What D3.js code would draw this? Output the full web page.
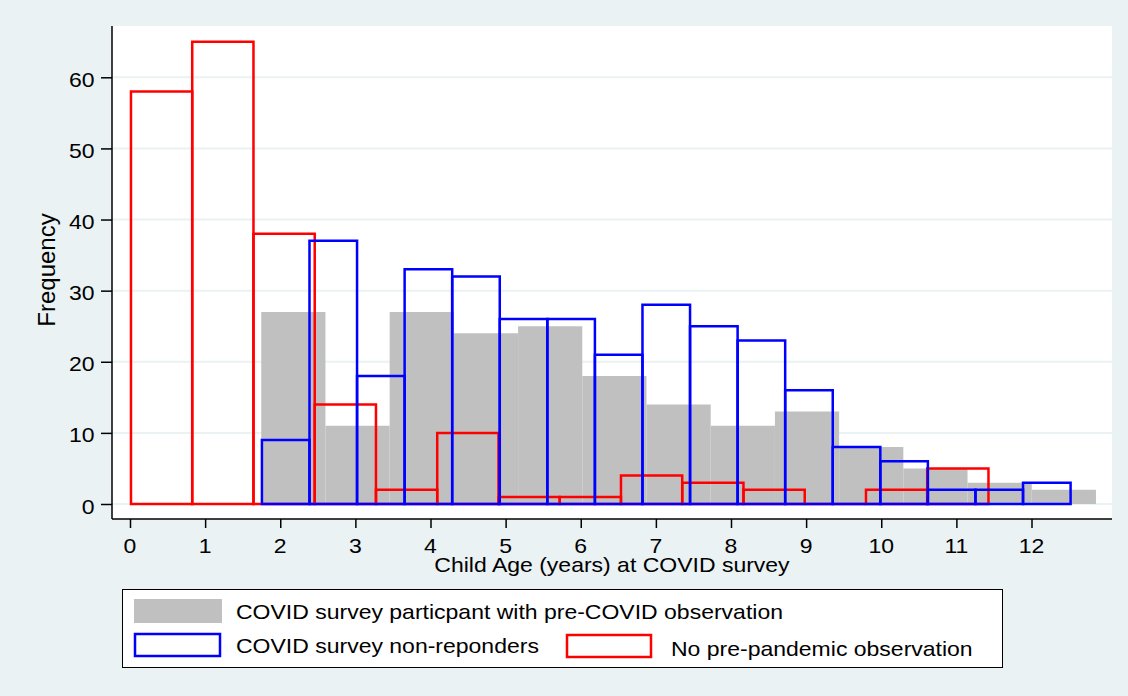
<!DOCTYPE html>
<html>
<head>
<meta charset="utf-8">
<script src="https://cdn.jsdelivr.net/npm/d3@7"></script>
<style>
  html, body { margin: 0; padding: 0; background: #eaf2f3; }
  svg { display: block; }
  text { font-family: "Liberation Sans", Arial, Helvetica, sans-serif; fill: #000; }
</style>
</head>
<body>
<div id="chart"></div>
<script>
// histogram counts, one array per group
const grayStart = 1.747
const grayWidth = 0.8547
const grayCounts = [27, 11, 27, 24, 25, 18, 14, 11, 13, 8, 5, 3, 2]

const blueStart = 1.756
const blueWidth = 0.6332
const blueCounts = [9, 37, 18, 33, 32, 26, 26, 21, 28, 25, 23, 16, 8, 6, 2, 2, 3]

const redStart = 0.013
const redWidth = 0.8153
const redCounts = [58, 65, 38, 14, 2, 10, 1, 1, 4, 3, 2, 0, 2, 5]

const xTicks = [0, 1, 2, 3, 4, 5, 6, 7, 8, 9, 10, 11, 12]
const yTicks = [0, 10, 20, 30, 40, 50, 60]

const legendLabels = [
  'COVID survey particpant with pre-COVID observation',
  'COVID survey non-reponders',
  'No pre-pandemic observation'
]

const width = 1128
const height = 696
const plot = { left: 112, right: 1112, top: 26, bottom: 519 }
const stretch = 1.15 // the source text is a little wide

const svg = d3.select('#chart').append('svg')
  .attr('width', width)
  .attr('height', height)

svg.append('rect')
  .attr('width', width).attr('height', height)
  .attr('fill', '#eaf2f3')

svg.append('rect')
  .attr('x', plot.left).attr('y', plot.top)
  .attr('width', plot.right - plot.left).attr('height', plot.bottom - plot.top)
  .attr('fill', '#fff')

const x = d3.scaleLinear().domain([0, 12]).range([130, 1031.5])
const y = d3.scaleLinear().domain([0, 60]).range([504, 77.3])

// grid
svg.append('g').selectAll('line')
  .data(yTicks)
  .enter()
  .append('line')
  .attr('x1', plot.left).attr('x2', plot.right)
  .attr('y1', d => y(d)).attr('y2', d => y(d))
  .attr('stroke', '#eaf2f3')
  .attr('stroke-width', 2)

function bins (start, w, counts) {
  return counts.map((c, i) => ({ x0: start + i * w, x1: start + (i + 1) * w, n: c }))
}

function barPath (d) {
  const x0 = x(d.x0)
  const x1 = x(d.x1)
  return 'M' + x0 + ',' + y(0) + 'V' + y(d.n) + 'H' + x1 + 'V' + y(0) + 'Z'
}

svg.append('g').selectAll('path')
  .data(bins(grayStart, grayWidth, grayCounts))
  .enter()
  .append('path')
  .attr('d', barPath)
  .attr('fill', '#c0c0c0')

svg.append('g').selectAll('path')
  .data(bins(redStart, redWidth, redCounts))
  .enter()
  .append('path')
  .attr('d', barPath)
  .attr('fill', 'none')
  .attr('stroke', '#ff0000')
  .attr('stroke-width', 2.5)

svg.append('g').selectAll('path')
  .data(bins(blueStart, blueWidth, blueCounts))
  .enter()
  .append('path')
  .attr('d', barPath)
  .attr('fill', 'none')
  .attr('stroke', '#0000ff')
  .attr('stroke-width', 2.5)

// axes
const yAxis = svg.append('g')
  .attr('transform', 'translate(' + plot.left + ',0)')
  .call(d3.axisLeft(y).tickValues(yTicks).tickSize(11).tickFormat(''))
yAxis.select('.domain').attr('d', 'M0,' + plot.top + 'V' + plot.bottom).attr('stroke-width', 1.5)
yAxis.selectAll('.tick line').attr('stroke-width', 1.5)

const xAxis = svg.append('g')
  .attr('transform', 'translate(0,' + plot.bottom + ')')
  .call(d3.axisBottom(x).tickValues(xTicks).tickSize(9).tickFormat(''))
xAxis.select('.domain').attr('d', 'M' + plot.left + ',0H' + plot.right).attr('stroke-width', 1.5)
xAxis.selectAll('.tick line').attr('stroke-width', 1.5)

function label (px, py, txt, size, anchor) {
  return svg.append('text')
    .attr('transform', 'translate(' + px + ',' + py + ') scale(' + stretch + ',1)')
    .attr('text-anchor', anchor || 'start')
    .style('font-size', size + 'px')
    .text(txt)
}

yTicks.forEach(t => label(94.5, y(t) + 9.5, t, 20, 'end'))
xTicks.forEach(t => label(x(t), 552.7, t, 20, 'middle'))

label(612, 572, 'Child Age (years) at COVID survey', 20, 'middle')

svg.append('text')
  .attr('transform', 'translate(55,270) rotate(-90)')
  .attr('text-anchor', 'middle')
  .style('font-size', '24px')
  .text('Frequency')

// legend
const legend = svg.append('g')
legend.append('rect')
  .attr('x', 122.5).attr('y', 589.5)
  .attr('width', 880).attr('height', 78)
  .attr('fill', '#fff')
  .attr('stroke', '#000')
  .attr('stroke-width', 1)

legend.append('rect')
  .attr('x', 134).attr('y', 599)
  .attr('width', 88).attr('height', 24)
  .attr('fill', '#c0c0c0')
legend.append('rect')
  .attr('x', 135).attr('y', 634)
  .attr('width', 85).attr('height', 22)
  .attr('fill', 'none')
  .attr('stroke', '#0000ff')
  .attr('stroke-width', 2.5)
legend.append('rect')
  .attr('x', 567).attr('y', 635)
  .attr('width', 84).attr('height', 22)
  .attr('fill', 'none')
  .attr('stroke', '#ff0000')
  .attr('stroke-width', 2.5)

label(236, 619.3, legendLabels[0], 20)
label(236, 652.5, legendLabels[1], 20)
label(671, 656, legendLabels[2], 20)
</script>
</body>
</html>
